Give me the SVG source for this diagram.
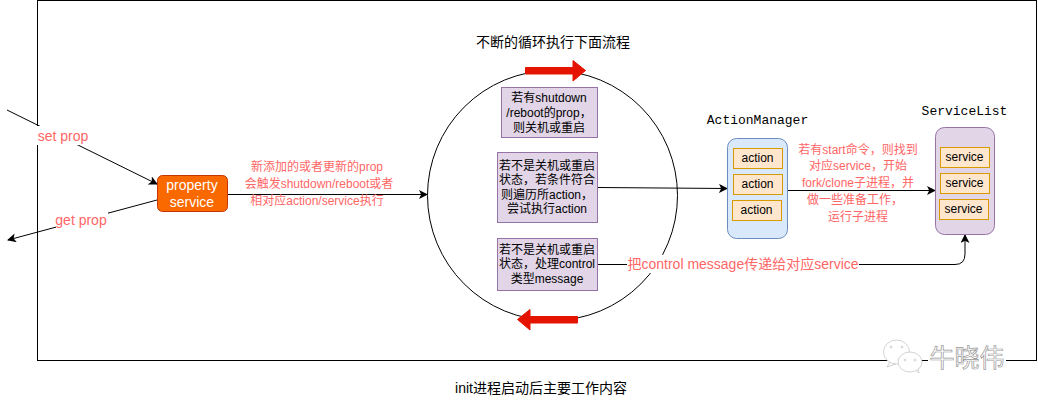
<svg xmlns="http://www.w3.org/2000/svg" width="1038" height="404" viewBox="0 0 1038 404">
<defs>
<marker id="ah" markerUnits="userSpaceOnUse" markerWidth="10" markerHeight="10" refX="8" refY="4.5" orient="auto"><path d="M0 0L9 4.5L0 9L2.2 4.5Z" fill="#000"/></marker>
</defs>
<style>
text{font-family:"Liberation Sans","Noto Sans CJK SC",sans-serif;font-size:12px;text-anchor:middle;fill:#000}
.r{fill:#ff6666}
.c{fill:none;stroke:#000;stroke-width:1;marker-end:url(#ah)}
.p{fill:#e1d5e7;stroke:#9673a6;stroke-width:1}
.o{fill:#ffe6cc;stroke:#d79b00;stroke-width:1}
.m{font-family:"Liberation Mono","DejaVu Sans Mono",monospace;font-size:13px}
.w{fill:#fff;stroke:none}
.t{font-size:14px}
</style>
<rect id="frame" x="37.5" y="0.5" width="999" height="360" fill="#fff" stroke="#000"/>
<g id="loop"><circle cx="552.5" cy="195.5" r="125" fill="none" stroke="#000"/></g>
<g id="connectors">
<path class="c" d="M7 110L157 184"/>
<path class="c" d="M157 200L8 240"/>
<path class="c" d="M228 194.500H427"/>
<path class="c" d="M598 187.500L727 188.500"/>
<path class="c" d="M787.500 190.500H935"/>
<path class="c" d="M598 264.500H955Q965 264.500 965 254V235"/>
<path fill="#e51400" stroke="#e51400" d="M525.500 67.500H573V60.500L585.500 70.500L573 81V74H525.500Z"/>
<path fill="#e51400" stroke="#e51400" d="M577.500 316.500H530V309.500L517.500 319.500L530 330V323H577.500Z"/>
</g>
<text class="t" x="553" y="47">不断的循环执行下面流程</text>
<g id="set-prop"><rect class="w" x="37" y="126" width="53" height="19"/><text class="r t" x="63" y="141">set prop</text></g>
<g id="get-prop"><rect class="w" x="56" y="212" width="52" height="19"/><text class="r t" x="81" y="225">get prop</text></g>
<g id="property-service"><rect x="157.500" y="175.500" width="70" height="36" rx="5" fill="#fa6800" stroke="#c73500"/><text class="t" x="192" y="190" style="fill:#fff">property</text><text class="t" x="192" y="207" style="fill:#fff">service</text></g>
<g id="prop-label"><text class="r" x="317" y="171">新添加的或者更新的prop</text><text class="r" x="319" y="188">会触发shutdown/reboot或者</text><text class="r" x="317" y="205">相对应action/service执行</text></g>
<g id="box1"><rect class="p" x="501.500" y="87.500" width="96" height="50"/><text x="549" y="102">若有shutdown</text><text x="549" y="117">/reboot的prop，</text><text x="549" y="132">则关机或重启</text></g>
<g id="box2"><rect class="p" x="497.500" y="152.500" width="100" height="70"/><text x="547" y="170">若不是关机或重启</text><text x="547" y="184">状态，若条件符合</text><text x="547" y="199">则遍历所action，</text><text x="547" y="213">尝试执行action</text></g>
<g id="box3"><rect class="p" x="497.500" y="238.500" width="100" height="52"/><text x="547" y="254">若不是关机或重启</text><text x="547" y="268">状态，处理control</text><text x="547" y="283">类型message</text></g>
<g id="control-label"><rect class="w" x="627" y="255" width="232" height="18"/><text class="r t" x="743" y="269">把control message传递给对应service</text></g>
<text class="m" x="757.500" y="124">ActionManager</text>
<text class="m" x="964.500" y="115">ServiceList</text>
<g id="action-manager"><rect x="727.500" y="138.500" width="60" height="100" rx="9" fill="#dae8fc" stroke="#6c8ebf"/>
<rect class="o" x="733.500" y="148.500" width="49" height="20"/><text x="757.500" y="162">action</text>
<rect class="o" x="733.500" y="174.500" width="49" height="20"/><text x="757.500" y="188">action</text>
<rect class="o" x="732.500" y="200.500" width="49" height="20"/><text x="756.500" y="214">action</text></g>
<g id="service-list"><rect class="p" x="935.500" y="127.500" width="59" height="107" rx="9"/>
<rect class="o" x="940.500" y="147.500" width="49" height="20"/><text x="964.500" y="161">service</text>
<rect class="o" x="940.500" y="173.500" width="49" height="20"/><text x="964.500" y="187">service</text>
<rect class="o" x="939.500" y="199.500" width="49" height="20"/><text x="963.500" y="213">service</text></g>
<g id="start-label"><text class="r" x="858" y="154">若有start命令，则找到</text><text class="r" x="858" y="170">对应service，开始</text><text class="r" x="858" y="187">fork/clone子进程，并</text><text class="r" x="855" y="204">做一些准备工作，</text><text class="r" x="858" y="221">运行子进程</text></g>
<text class="t" x="541" y="393">init进程启动后主要工作内容</text>
<g id="watermark" fill="#fff" stroke="#c8c8c8" stroke-width="0.8"><path d="M890 362L887 367L896 364Z"/><ellipse cx="896.500" cy="352" rx="13" ry="12"/><path d="M914 369L919 373L918 367Z"/><ellipse cx="910" cy="362" rx="12" ry="10"/><circle cx="891" cy="347" r="1"/><circle cx="902" cy="347" r="1"/><circle cx="905" cy="360" r="1"/><circle cx="915" cy="360" r="1"/><rect x="928" y="345" width="78" height="26" stroke="none"/><text x="967" y="367" style="font-size:25px;fill:#fff;stroke:#999;stroke-width:.7">牛晓伟</text></g>
</svg>
